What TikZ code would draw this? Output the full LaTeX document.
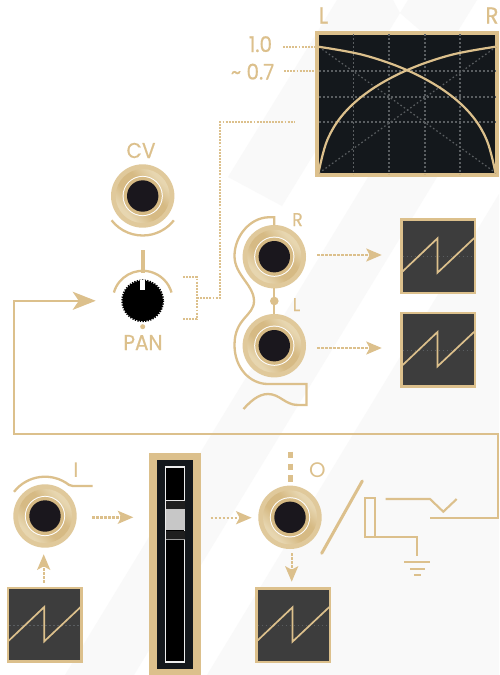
\documentclass[tikz,border=0pt]{standalone}
\usepackage{fontspec}
\setmainfont{Poppins}
\newfontfamily\lblfont[FakeStretch=0.93,FakeBold=0.5]{Poppins}
\newfontfamily\thinlbl{Poppins}
\usetikzlibrary{arrows.meta}
\definecolor{gold}{HTML}{DCC08C}
\definecolor{goldr}{HTML}{E0C99B}
\definecolor{goldl}{HTML}{E7D6B0}
\definecolor{goldd}{HTML}{D6BA84}
\definecolor{band}{HTML}{F9F9F9}
\definecolor{panel}{HTML}{14181C}
\definecolor{hole}{HTML}{1A171D}
\definecolor{scopebg}{HTML}{3D3D3D}
\definecolor{gridc}{HTML}{5A5E61}
\pgfdeclarehorizontalshading{sheen}{100bp}{color(0bp)=(goldl); color(28bp)=(goldl); color(42bp)=(goldd); color(58bp)=(goldd); color(72bp)=(goldl); color(100bp)=(goldl)}
\tikzset{
  x=1pt,y=-1pt,
  disc/.style={circle,inner sep=0,outer sep=0,draw=none},
  wire/.style={draw=gold,line width=2.3pt},
  dots/.style={draw=gold,line width=1.9pt,dash pattern=on 1.9pt off 1.2pt},
  flow/.style={draw=gold,line width=2.4pt,dash pattern=on 2.5pt off 1.5pt,-{Stealth[length=15.5pt,width=13pt,inset=3.5pt,fill=gold]}},
  griddot/.style={draw=gridc,line width=1.2pt,dash pattern=on 1.6pt off 2.4pt},
  lbl/.style={inner sep=0,outer sep=0,text=gold,font=\lblfont\fontsize{21.5}{21.5}\selectfont,anchor=base},
  scopebox/.style={rectangle,draw=gold,line width=2.5pt,fill=scopebg,minimum size=73.5pt,inner sep=0,outer sep=0},
}
\newcommand{\jackat}[3]{%
  \node[disc,fill=goldr,minimum size=63.4pt] (#1) at (#2,#3) {};
  \node[disc,shading=sheen,shading angle=45,minimum size=54pt] (#1-s) at (#1) {};
  \node[disc,fill=white,minimum size=40.2pt] (#1-w) at (#1) {};
  \node[disc,fill=goldd,minimum size=38.2pt] (#1-g) at (#1) {};
  \node[disc,fill=hole,minimum size=31.4pt] (#1-h) at (#1) {};
}
\newcommand{\scopeat}[3]{%
  \node[scopebox] (#1) at (#2,#3) {};
  \begin{scope}[shift={(#1.center)}]
    \draw[griddot,line width=1.1pt] (-35.5,0.5) -- (35.5,0.5);
    \draw[gold,line width=1.7pt,line join=miter] (-36,16) -- (-0.5,-17.7) -- (-0.5,16.7) -- (36.2,-17.9);
  \end{scope}
}
\begin{document}
\begin{tikzpicture}
\useasboundingbox (0,0) rectangle (499,675);
\clip (0,0) rectangle (499,675);
\fill[white] (0,0) rectangle (499,675);
% background bands
\fill[band] (337,0) -- (393,0) -- (400,13) -- (282,206) -- (228,177) -- cycle;
\fill[band] (408,0) -- (477,0) -- (445,52) -- (400,13) -- cycle;
\fill[band] (415,100) -- (484,100) -- (134,675) -- (65,675) -- cycle;
\fill[band] (499,194) -- (499,675) -- (207,675) -- cycle;

% pan law plot
\node[rectangle,draw=gold,line width=4pt,fill=panel,minimum width=180pt,minimum height=142pt,inner sep=0,outer sep=0] (plot) at (407,104) {};
\foreach \gx in {353.3,389,425,460} \draw[griddot] (\gx,34) -- (\gx,174);
\foreach \gy in {71,97,122} \draw[griddot] (319,\gy) -- (496,\gy);
\draw[griddot] (319,173) -- (496,47);
\draw[griddot] (319,47) -- (496,173);
\draw[gold,line width=2.2pt] plot[smooth,tension=0.6] coordinates {(318.3,46.7) (363.3,55) (406.7,70) (443.3,90) (470,113.3) (486.7,140) (495.5,173)};
\draw[gold,line width=2.2pt] plot[smooth,tension=0.6] coordinates {(318.5,173) (327.3,140) (344,113.3) (370.7,90) (407.3,70) (450.7,55) (495.7,46.7)};
\node[lbl,font=\lblfont\fontsize{23}{23}\selectfont] (lL) at (323.5,23.5) {L};
\node[lbl,font=\lblfont\fontsize{23}{23}\selectfont] (lR) at (492,23.5) {R};
\node[lbl] (l10) at (260.5,52) {1.0};
\node[lbl] (l07) at (252.5,79.5) {\textasciitilde\ 0.7};
\draw[dots] ([shift={(11,-5)}]l10.base east) -- ([shift={(0,-57)}]plot.west);
\draw[dots] ([shift={(10,-8.5)}]l07.base east) -- ([shift={(0,-33)}]plot.west);

% CV jack
\node[lbl] (lCV) at (141,158) {CV};
\jackat{cv}{142.7}{196}
\draw[wire] ([shift={(-218:39.5)}]cv.center) arc[start angle=-218,end angle=-322,radius=39.5];

% pan knob
\node[disc,fill=black,minimum size=40.5pt] (knob) at (142.7,300.8) {};
\draw[black,line width=1.6pt,dash pattern=on 1.3pt off 1.3pt] (knob.center) circle[radius=20.6];
\fill[white] (140.2,280) rectangle (145.2,290);
\draw[wire] ([shift={(-164:30)}]knob.center) arc[start angle=-164,end angle=-16,radius=30];
\draw[gold,line width=4.3pt] ([shift={(0,-30.5)}]knob.north) -- ([shift={(0,-8)}]knob.north);
\node[disc,fill=gold,minimum size=5pt] (kdot) at (142.7,326.7) {};
\node[lbl] (lPAN) at (143,350) {PAN};

% pan output dots
\draw[dots] (183,277) -- (197,277) -- (197,319) -- (183,319);
\coordinate (brk) at (197,298);
\draw[dots] (brk) -- (220,298) -- (220,122) -- ([shift={(-23,18)}]plot.west);

% R / L jacks
\jackat{r}{274.3}{256.7}
\jackat{l}{274.3}{345.7}
\draw[wire] (r.north) -- (274.3,217.3) -- (268,217.3)
  .. controls (250,218) and (234.5,236) .. (234.5,256)
  .. controls (234.5,275) and (254,285) .. (254,301)
  .. controls (254,316) and (234.5,318) .. (234.5,345)
  .. controls (234.5,368) and (250,384) .. (268,384)
  -- (306.5,384) -- (306.5,405) -- (298,405)
  .. controls (285,405) and (280,394) .. (268,394)
  .. controls (258,394) and (250,402) .. (243.5,409);
\draw[wire] (r.south) -- (l.north);
\node[disc,fill=gold,minimum size=8.6pt] (rldot) at (274.3,301) {};
\node[lbl,font=\lblfont\fontsize{18.5}{18.5}\selectfont] (lr2) at (297.5,226) {R};
\node[lbl,font=\lblfont\fontsize{18.5}{18.5}\selectfont] (ll2) at (296.5,311) {L};

% scopes
\scopeat{s1}{438}{256}
\scopeat{s2}{438}{349.7}
\scopeat{sin}{44.7}{624.7}
\scopeat{sout}{293}{625}
\draw[flow] ([shift={(11,-1.7)}]r.east) -- ([shift={(-19.5,-1)}]s1.west);
\draw[flow] ([shift={(11,2.3)}]l.east) -- ([shift={(-19.5,-1.7)}]s2.west);

% input jack
\jackat{jin}{45}{516}
\draw[wire] ([shift={(-142:39.3)}]jin.center) arc[start angle=-142,end angle=-52,radius=39.3] .. controls (70.5,485.5) and (71,486) .. (73,486) -- (92.7,486);
\node[lbl,font=\thinlbl\fontsize{21}{21}\selectfont] (lI) at (76,477) {I};
\draw[flow] ([shift={(-1,-5.3)}]sin.north) -- ([shift={(-1.3,6.6)}]jin.south);

% output jack
\jackat{jout}{290}{517.3}
\node[lbl,font=\thinlbl\fontsize{21}{21}\selectfont] (lO) at (317.3,477.3) {O};
\draw[gold,line width=5pt,dash pattern=on 6.7pt off 5.1pt] ([shift={(0,-33.9)}]jout.north) -- ([shift={(0,-3)}]jout.north);
\draw[flow] ([shift={(1.7,4.3)}]jout.south) -- ([shift={(-1.3,-6.5)}]sout.north);

% fader
\node[rectangle,fill=gold,minimum width=51.4pt,minimum height=222.3pt,inner sep=0,outer sep=0] (fader) at (175,563.85) {};
\node[rectangle,fill=panel,minimum width=36.3pt,minimum height=209.3pt,inner sep=0,outer sep=0] (fin) at (175.1,564.65) {};
\node[rectangle,draw=white!93!black,line width=1.5pt,fill=black,minimum width=19pt,minimum height=195pt,inner sep=0,outer sep=0] (slot) at (175.2,564.7) {};
\fill[white!90!black] (165.8,499.8) rectangle (184.6,500.8);
\fill[black!88!white] (165.8,500.8) rectangle (184.6,508.7);
\fill[black!22] (165.8,508.7) rectangle (184.6,530);
\fill[black!88!white] (165.8,530.7) rectangle (184.6,538.7);
\fill[black!40] (165.8,538.7) rectangle (184.6,539.6);
\draw[flow] ([shift={(15.6,1.3)}]jin.east) -- ([shift={(-16,1.3)}]fader.west |- jin.east);
\draw[flow] ([shift={(10,0.4)}]fader.east |- jout.west) -- ([shift={(-6.7,0.4)}]jout.west);

% TS jack symbol
\coordinate (s1a) at (362.3,481);
\coordinate (s1b) at (321.7,553.3);
\draw[gold,line width=3pt,line cap=round] (s1a) -- (s1b);
\node[rectangle,draw=gold,line width=2.1pt,minimum width=9.7pt,minimum height=39pt,inner sep=0,outer sep=0] (sleeve) at (370.2,517.2) {};
\node[inner sep=0,outer sep=0,minimum size=0pt] (gnd) at (417.3,561.7) {};
\draw[gold,line width=2.1pt] (sleeve.south east) -- (417.3,536.7) -- ([shift={(0,-5.7)}]gnd.center);
\draw[gold,line width=2.1pt] ([xshift=-13]gnd.center) -- ([xshift=13]gnd.center);
\draw[gold,line width=2.1pt] ([shift={(-7.5,7.3)}]gnd.center) -- ([shift={(7.5,7.3)}]gnd.center);
\draw[gold,line width=2.1pt] ([shift={(-3.4,13.3)}]gnd.center) -- ([shift={(3.4,13.3)}]gnd.center);
\draw[gold,line width=2.1pt] (385.7,499) -- (430,499) -- (443.3,511.7) -- (456.7,499);

% main return wire
\coordinate (swl) at (430,518);
\draw[wire,-{Stealth[length=23pt,width=18pt,inset=6pt,fill=gold]}] (swl) -- (498,518) -- (498,434) -- (14,434) -- (14,300.8) -- ([xshift=-26.7]knob.west);
\end{tikzpicture}
\end{document}
